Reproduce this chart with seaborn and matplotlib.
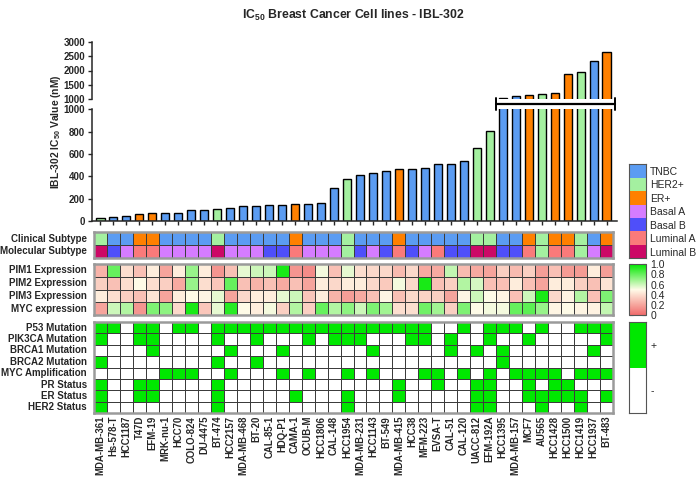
import numpy as np
import pandas as pd
import matplotlib.pyplot as plt
import seaborn as sns
from matplotlib.colors import ListedColormap, LinearSegmentedColormap
from matplotlib.lines import Line2D

# data
cell_lines = ["MDA-MB-361", "Hs-578-T", "HCC1187", "T47D", "EFM-19", "MRK-nu-1", "HCC70", "COLO-824",
              "DU-4475", "BT-474", "HCC2157", "MDA-MB-468", "BT-20", "CAL-85-1", "HDQ-P1", "CAMA-1",
              "OCUB-M", "HCC1806", "CAL-148", "HCC1954", "MDA-MB-231", "HCC1143", "BT-549", "MDA-MB-415",
              "HCC38", "MFM-223", "EVSA-T", "CAL-51", "CAL-120", "UACC-812", "EFM-192A", "HCC1395",
              "MDA-MB-157", "MCF7", "AU565", "HCC1428", "HCC1500", "HCC1419", "HCC1937", "BT-483"]
ic50 = [30, 40, 45, 63, 68, 72, 75, 95, 100, 108, 115, 130, 135, 140, 143, 152, 154, 165, 292, 372,
        408, 426, 446, 464, 464, 476, 512, 514, 539, 655, 810, 1035, 1116, 1139, 1197, 1220, 1891, 1961,
        2319, 2632]
clinical = ["HER2+", "TNBC", "TNBC", "ER+", "ER+", "TNBC", "TNBC", "TNBC", "TNBC", "HER2+",
            "TNBC", "TNBC", "TNBC", "TNBC", "TNBC", "ER+", "TNBC", "TNBC", "TNBC", "HER2+",
            "TNBC", "TNBC", "TNBC", "ER+", "TNBC", "TNBC", "TNBC", "TNBC", "TNBC", "HER2+",
            "HER2+", "TNBC", "TNBC", "ER+", "HER2+", "ER+", "ER+", "HER2+", "TNBC", "ER+"]
molecular = ["Luminal B", "Basal B", "Basal A", "Luminal A", "Luminal A", "Basal A", "Basal A", "Basal A",
             "Basal A", "Luminal B", "Basal A", "Basal A", "Basal A", "Basal B", "Basal B", "Luminal A",
             "Basal A", "Basal A", "Basal A", "HER2+", "Basal B", "Basal A", "Basal B", "Luminal A",
             "Basal B", "Basal A", "Luminal A", "Basal B", "Basal B", "Luminal B", "Luminal B", "Basal B",
             "Basal B", "Luminal A", "HER2+", "Luminal A", "Luminal A", "HER2+", "Basal A", "Luminal B"]

pim1 = [0.25, 0.8, 0.4, 0.3, 0.45, 0.2, 0.45, 0.7, 0.45, 0.15, 0.3, 0.55, 0.6, 0.6, 0.95, 0.15, 0.12, 0.52, 0.3, 0.55,
        0.4, 0.38, 0.38, 0.28, 0.38, 0.22, 0.22, 0.62, 0.28, 0.22, 0.2, 0.35, 0.28, 0.35, 0.18, 0.3, 0.17, 0.17, 0.45, 0.18]
pim2 = [0.35, 0.3, 0.4, 0.5, 0.4, 0.35, 0.22, 0.7, 0.4, 0.32, 0.8, 0.3, 0.25, 0.3, 0.22, 0.3, 0.2, 0.45, 0.38, 0.45,
        0.45, 0.38, 0.33, 0.52, 0.38, 0.95, 0.3, 0.35, 0.65, 0.58, 0.3, 0.3, 0.45, 0.3, 0.2, 0.45, 0.45, 0.35, 0.3, 0.42]
pim3 = [0.45, 0.4, 0.35, 0.3, 0.42, 0.2, 0.45, 0.5, 0.48, 0.55, 0.2, 0.38, 0.45, 0.45, 0.55, 0.6, 0.32, 0.45, 0.25, 0.18,
        0.22, 0.3, 0.48, 0.3, 0.38, 0.36, 0.35, 0.2, 0.48, 0.6, 0.5, 0.48, 0.3, 0.6, 0.95, 0.38, 0.47, 0.65, 0.3, 0.75]
myc_expr = [0.2, 0.6, 0.65, 0.15, 0.75, 0.72, 0.38, 0.95, 0.32, 0.55, 0.92, 0.5, 0.45, 0.52, 0.35, 0.65, 0.35, 0.8, 0.65, 0.72,
            0.6, 0.75, 0.68, 0.4, 0.4, 0.78, 0.68, 0.35, 0.75, 0.5, 0.52, 0.52, 0.8, 0.82, 0.7, 0.48, 0.5, 0.48, 0.47, 0.62]

p53 = [1, 1, 0, 1, 1, 0, 1, 1, 0, 1, 1, 1, 1, 1, 1, 1, 1, 1, 1, 1,
       1, 1, 1, 1, 1, 1, 0, 0, 1, 0, 1, 1, 1, 0, 1, 0, 0, 1, 1, 1]
pik3ca = [1, 0, 0, 1, 1, 0, 0, 0, 0, 1, 0, 0, 1, 0, 0, 0, 1, 0, 1, 1,
          1, 0, 0, 0, 1, 1, 0, 1, 0, 0, 1, 0, 0, 1, 0, 0, 0, 0, 0, 1]
brca1 = [0, 0, 0, 0, 1, 0, 0, 0, 0, 0, 1, 0, 0, 0, 1, 0, 0, 0, 0, 0,
         0, 1, 0, 0, 0, 0, 0, 1, 0, 1, 0, 1, 0, 0, 0, 0, 0, 0, 1, 0]
brca2 = [1, 0, 0, 0, 0, 0, 0, 0, 0, 1, 0, 0, 1, 0, 0, 0, 0, 0, 0, 0,
         0, 0, 0, 0, 0, 0, 0, 0, 0, 0, 0, 1, 0, 0, 0, 0, 0, 0, 0, 0]
myc_amp = [0, 0, 0, 0, 0, 1, 1, 1, 0, 0, 1, 0, 0, 0, 1, 0, 1, 0, 0, 1,
           0, 1, 0, 0, 0, 1, 1, 0, 1, 0, 1, 0, 1, 1, 1, 1, 0, 1, 1, 1]
pr_status = [1, 0, 0, 1, 1, 0, 0, 0, 0, 1, 0, 0, 0, 0, 0, 0, 0, 0, 0, 0,
             0, 0, 0, 1, 0, 0, 1, 0, 0, 1, 1, 0, 0, 1, 0, 1, 1, 0, 0, 0]
er_status = [1, 0, 0, 1, 1, 0, 0, 0, 0, 1, 0, 0, 0, 0, 0, 1, 0, 0, 0, 1,
             0, 0, 0, 1, 0, 0, 0, 0, 0, 1, 1, 0, 0, 1, 1, 1, 1, 1, 0, 1]
her2_status = [1, 0, 0, 0, 0, 0, 0, 0, 0, 1, 0, 0, 0, 0, 0, 0, 0, 0, 0, 1,
               0, 0, 0, 0, 0, 0, 0, 0, 0, 1, 1, 0, 0, 0, 1, 0, 0, 1, 0, 0]

subtypes = ["TNBC", "HER2+", "ER+", "Basal A", "Basal B", "Luminal A", "Luminal B"]
subtype_colors = ["#5b9cf2", "#a4f0a0", "#ff8000", "#d57cff", "#4f4ffa", "#fa7a7a", "#cc0866"]
expr_rows = ["PIM1 Expression", "PIM2 Expression", "PIM3 Expression", "MYC expression"]
mut_rows = ["P53 Mutation", "PIK3CA Mutation", "BRCA1 Mutation", "BRCA2 Mutation",
            "MYC Amplification", "PR Status", "ER Status", "HER2 Status"]

sns.set_style("white")
plt.rcParams["font.family"] = ["Liberation Sans", "DejaVu Sans"]
plt.rcParams["mathtext.fontset"] = "custom"
plt.rcParams["mathtext.rm"] = "Liberation Sans"
plt.rcParams["mathtext.bf"] = "Liberation Sans:bold"

W, H = 697, 479
fig = plt.figure(figsize=(W / 100, H / 100), dpi=100)


def add_ax(x0, y0, x1, y1):
    return fig.add_axes([x0 / W, 1 - y1 / H, (x1 - x0) / W, (y1 - y0) / H])


HX0, HX1 = 94, 613
cw = (HX1 - HX0) / len(cell_lines)
grid_col = "#3c3c3c"
green = "#00e800"
cat_cmap = ListedColormap(subtype_colors)
bin_cmap = ListedColormap(["white", green])
expr_cmap = LinearSegmentedColormap.from_list("expr", ["#f06a6a", "#fffbe8", green])

# ---- bars (broken axis) ----
df_bar = pd.DataFrame({"cell": cell_lines, "ic50": ic50, "subtype": clinical})
ax_top = add_ax(92, 41.7, 617, 99.3)
ax_bot = add_ax(92, 109.3, 617, 221)
for ax in (ax_top, ax_bot):
    sns.barplot(data=df_bar, x="cell", y="ic50", hue="subtype", palette=dict(zip(subtypes, subtype_colors)),
                dodge=False, width=0.62, saturation=1, edgecolor="black", linewidth=1, legend=False, ax=ax)
    ax.set_xlim((92 - HX0) / cw - 0.5, (617 - HX0) / cw - 0.5)
    ax.set_xlabel("")
    ax.set_ylabel("")
    for s in ["top", "right"]:
        ax.spines[s].set_visible(False)
    ax.spines["left"].set_linewidth(1.1)
    ax.tick_params(axis="y", direction="out", length=3, width=1, pad=2, labelsize=7, left=True)

ax_top.set_ylim(1000, 3000)
ax_top.set_yticks([1000, 1500, 2000, 2500, 3000])
ax_top.spines["bottom"].set_visible(False)
ax_top.tick_params(axis="x", bottom=False, labelbottom=False)
ax_bot.set_ylim(0, 1000)
ax_bot.set_yticks([0, 200, 400, 600, 800, 1000])
ax_bot.spines["bottom"].set_linewidth(1.1)
ax_bot.tick_params(axis="x", bottom=True, direction="out", length=3, width=1, labelbottom=False)
for ax in (ax_top, ax_bot):
    for lab in ax.get_yticklabels():
        lab.set_fontweight("bold")

# break bracket
bx0, bx1, by = HX0 + 31 * cw, 615, 104
fig.add_artist(Line2D([bx0 / W, bx1 / W], [1 - by / H, 1 - by / H], color="black", lw=1.6))
for bx in (bx0, bx1):
    fig.add_artist(Line2D([bx / W, bx / W], [1 - 98 / H, 1 - 110 / H], color="black", lw=1.4))

fig.text(56 / W, 1 - 132 / H, "IBL-302 IC$_{\\mathbf{50}}$ Value (nM)", rotation=90, ha="center", va="center",
         fontsize=7.4, fontweight="bold")
fig.text(353 / W, 1 - 15 / H, "IC$_{\\mathbf{50}}$ Breast Cancer Cell lines - IBL-302", ha="center", va="center",
         fontsize=8.8, fontweight="bold")


def style_block(ax, labels):
    ax.set_yticklabels(labels, rotation=0, fontsize=7, fontweight="bold")
    ax.tick_params(axis="y", length=0, pad=5)
    for s in ax.spines.values():
        s.set_visible(True)
        s.set_color("#9a9a9a")
        s.set_linewidth(1.8)


# ---- subtype rows ----
sub_codes = pd.DataFrame([[subtypes.index(v) for v in clinical], [subtypes.index(v) for v in molecular]],
                         index=["Clinical Subtype", "Molecular Subtype"], columns=cell_lines)
ax_sub = add_ax(HX0, 232.3, HX1, 257.7)
sns.heatmap(sub_codes, ax=ax_sub, cmap=cat_cmap, vmin=-0.5, vmax=6.5, cbar=False,
            linewidths=0.7, linecolor=grid_col, xticklabels=False, yticklabels=True)
style_block(ax_sub, sub_codes.index)

# ---- expression rows ----
expr = pd.DataFrame([pim1, pim2, pim3, myc_expr], index=expr_rows, columns=cell_lines)
ax_expr = add_ax(HX0, 264, HX1, 315.3)
ax_cb2 = add_ax(629, 264, 646, 315.3)
sns.heatmap(expr, ax=ax_expr, cmap=expr_cmap, vmin=0, vmax=1, cbar_ax=ax_cb2,
            cbar_kws={"ticks": [0, 0.2, 0.4, 0.6, 0.8, 1.0]},
            linewidths=0.7, linecolor=grid_col, xticklabels=False, yticklabels=True)
style_block(ax_expr, expr_rows)
cbar = ax_expr.collections[0].colorbar
cbar.ax.set_yticklabels(["0", "0.2", "0.4", "0.6", "0.8", "1.0"])
cbar.ax.tick_params(direction="in", left=True, right=True, length=3, width=0.8, color="#333333",
                    labelsize=7.5, pad=3)
cbar.outline.set_edgecolor("#555555")
cbar.outline.set_linewidth(0.8)

# ---- mutation / status rows ----
muts = pd.DataFrame([p53, pik3ca, brca1, brca2, myc_amp, pr_status, er_status, her2_status],
                    index=mut_rows, columns=cell_lines)
ax_mut = add_ax(HX0, 322, HX1, 413)
sns.heatmap(muts, ax=ax_mut, cmap=bin_cmap, vmin=0, vmax=1, cbar=False,
            linewidths=0.7, linecolor=grid_col, xticklabels=True, yticklabels=True)
style_block(ax_mut, mut_rows)
ax_mut.set_xticklabels(cell_lines, rotation=90, fontsize=6.9, fontweight="bold")
ax_mut.tick_params(axis="x", length=0, pad=2)


# ---- legends on the right ----
def side_legend(ax, data, cmap, vmax, labels):
    sns.heatmap(data, ax=ax, cmap=cmap, vmin=-0.5, vmax=vmax, cbar=False, xticklabels=False,
                yticklabels=labels)
    ax.yaxis.tick_right()
    ax.set_yticklabels(labels, rotation=0, fontsize=7.5)
    ax.tick_params(axis="y", direction="in", left=True, right=True, labelleft=False, labelright=True,
                   length=3, width=0.8, color="#333333", pad=3)
    for s in ax.spines.values():
        s.set_visible(True)
        s.set_color("#555555")
        s.set_linewidth(0.8)


ax_l1 = add_ax(629, 164.3, 646, 258.3)
side_legend(ax_l1, np.arange(len(subtypes)).reshape(-1, 1), cat_cmap, 6.5, subtypes)
ax_l3 = add_ax(629, 322, 646, 413)
side_legend(ax_l3, np.array([[1], [0]]), ListedColormap(["white", green]), 1.5, ["+", "-"])

fig.savefig("out.png", dpi=100)
